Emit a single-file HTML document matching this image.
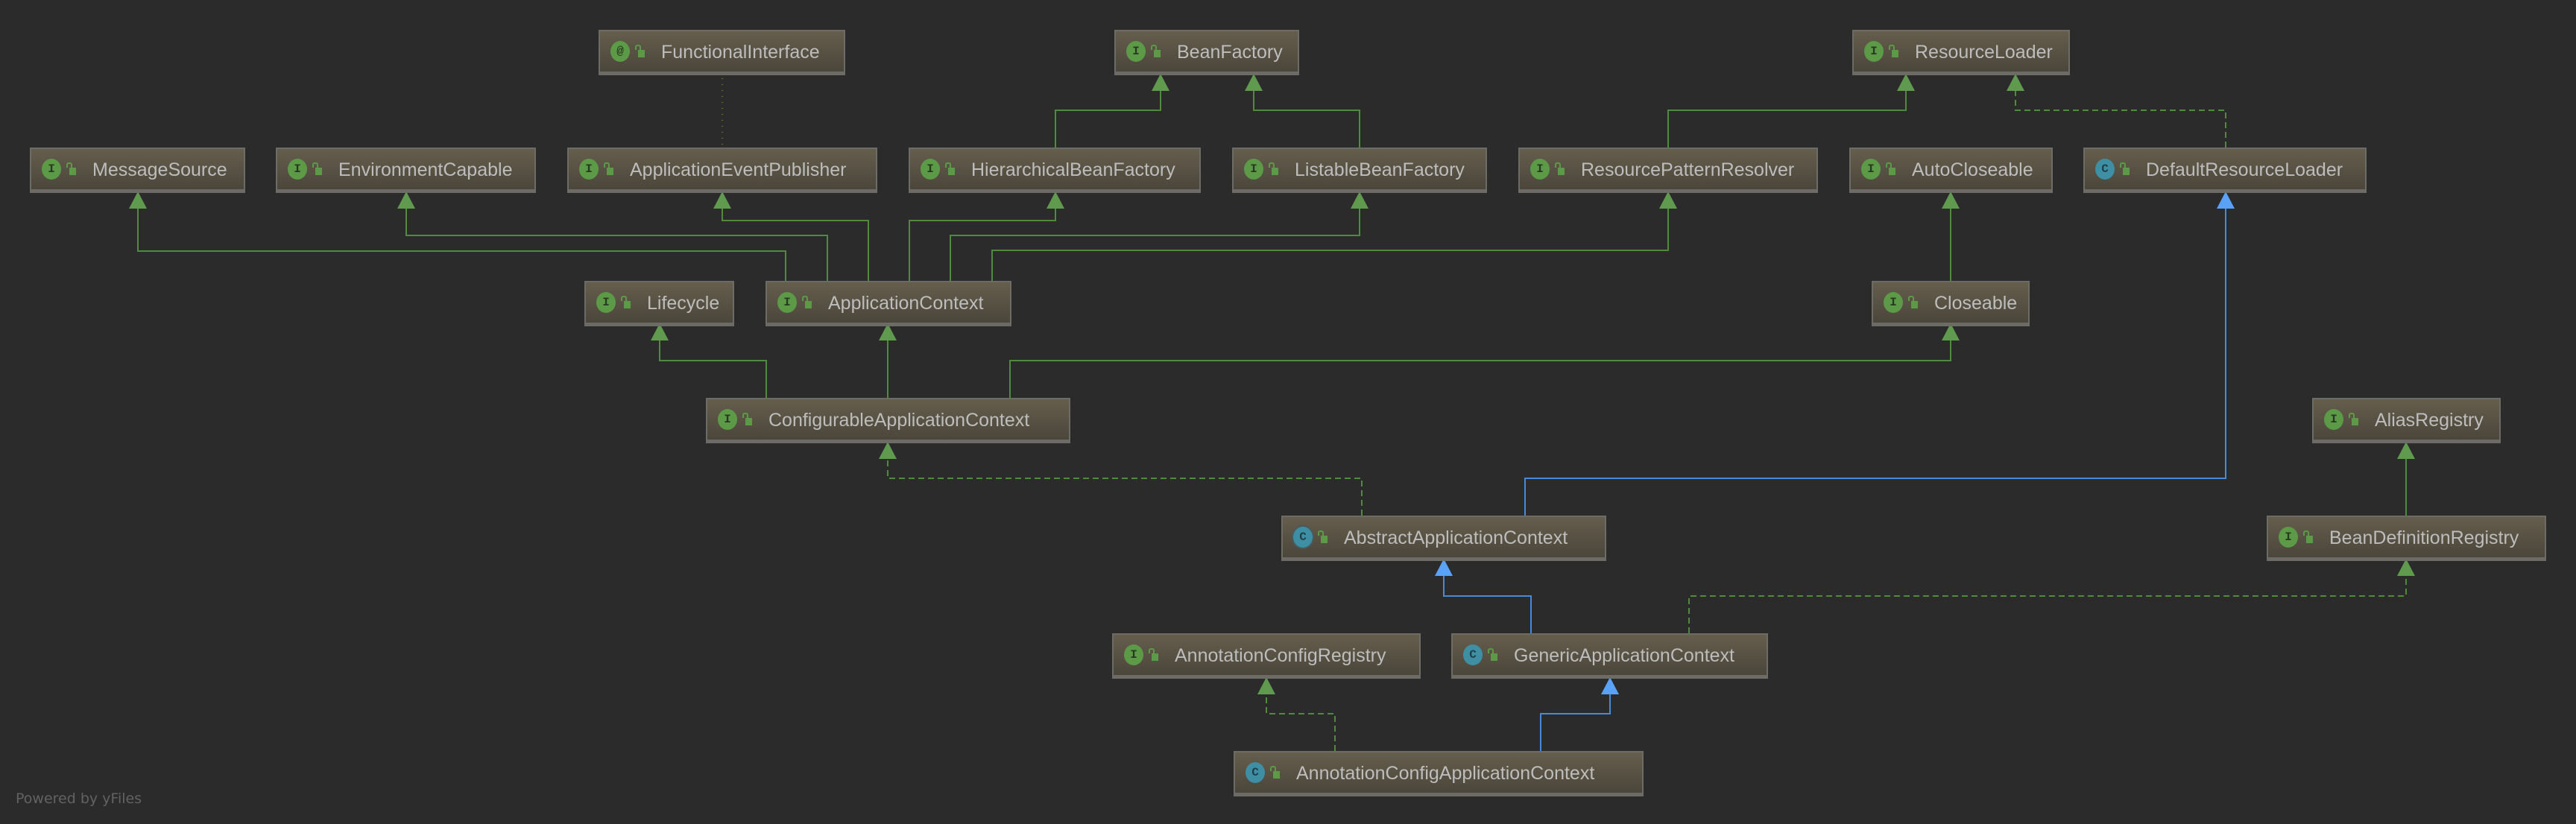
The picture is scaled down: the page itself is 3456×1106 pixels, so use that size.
<!DOCTYPE html>
<html><head><meta charset="utf-8"><style>
body{margin:0;width:3456px;height:1106px;background:#2b2b2b;overflow:hidden;position:relative;font-family:"Liberation Sans",sans-serif}
.b{position:absolute;height:54px;border:2px solid #6d6b66;border-bottom:5px solid #6d6b66;background:linear-gradient(#655e4d,#4b463b);box-sizing:content-box}
.b .i{position:absolute;left:14px;top:13px;width:26px;height:28px;border-radius:50%;background:#5c9a47;color:#263a20;font:bold 16px "Liberation Mono",monospace;text-align:center;line-height:28px}
.b .i.c{background:#3e8fa4;color:#1e3f4a}
.b .l{position:absolute;left:47px;top:18px;width:4px;height:5px;border:2px solid #5c9a47;border-bottom:none;border-radius:3px 3px 0 0}
.b .l:after{content:"";position:absolute;left:2px;top:5px;width:9px;height:10px;background:#5c9a47}
.b .t{position:absolute;left:82px;top:14px;font-size:25px;color:#bdbdbd;white-space:nowrap;line-height:28px}
.p{position:absolute;left:21px;top:1061px;font-size:19px;color:#626262;font-family:"DejaVu Sans",sans-serif}
</style></head><body>
<svg width="3456" height="1106" style="position:absolute;left:0;top:0">
<g fill="none" stroke="#4f8a3f" stroke-width="2">
<polyline points="1054,377 1054,337 185,337 185,279"/>
<polyline points="1110,377 1110,316 545,316 545,279"/>
<polyline points="1165,377 1165,296 969,296 969,279"/>
<polyline points="1220,377 1220,296 1416,296 1416,279"/>
<polyline points="1275,377 1275,316 1824,316 1824,279"/>
<polyline points="1331,377 1331,336 2238,336 2238,279"/>
<polyline points="1416,198 1416,148 1557,148 1557,121"/>
<polyline points="1824,198 1824,148 1682,148 1682,121"/>
<polyline points="2238,198 2238,148 2557,148 2557,121"/>
<polyline points="2617,377 2617,279"/>
<polyline points="1028,534 1028,484 885,484 885,456"/>
<polyline points="1191,534 1191,456"/>
<polyline points="1355,534 1355,484 2617,484 2617,456"/>
<polyline points="3228,692 3228,615"/>
</g>
<g fill="none" stroke="#4f8a3f" stroke-width="2" stroke-dasharray="8,5">
<polyline points="2986,198 2986,148 2704,148 2704,121"/>
<polyline points="1827,692 1827,642 1191,642 1191,615"/>
<polyline points="2266,850 2266,800 3228,800 3228,772"/>
<polyline points="1791,1008 1791,958 1699,958 1699,931"/>
</g>
<line x1="969" y1="105" x2="969" y2="196" stroke="#8a8a20" stroke-width="1.5" stroke-dasharray="1,7"/>
<g fill="none" stroke="#4a88d8" stroke-width="2">
<polyline points="2046,692 2046,642 2986,642 2986,279"/>
<polyline points="2054,850 2054,800 1937,800 1937,772"/>
<polyline points="2067,1008 2067,958 2160,958 2160,931"/>
</g>
<g fill="#609a4e">
<polygon points="185,257 173,280 197,280"/>
<polygon points="545,257 533,280 557,280"/>
<polygon points="969,257 957,280 981,280"/>
<polygon points="1416,257 1404,280 1428,280"/>
<polygon points="1824,257 1812,280 1836,280"/>
<polygon points="2238,257 2226,280 2250,280"/>
<polygon points="1557,99 1545,122 1569,122"/>
<polygon points="1682,99 1670,122 1694,122"/>
<polygon points="2557,99 2545,122 2569,122"/>
<polygon points="2704,99 2692,122 2716,122"/>
<polygon points="2617,257 2605,280 2629,280"/>
<polygon points="885,434 873,457 897,457"/>
<polygon points="1191,434 1179,457 1203,457"/>
<polygon points="2617,434 2605,457 2629,457"/>
<polygon points="1191,593 1179,616 1203,616"/>
<polygon points="3228,593 3216,616 3240,616"/>
<polygon points="3228,750 3216,773 3240,773"/>
<polygon points="1699,909 1687,932 1711,932"/>
</g>
<g fill="#5aa2f8">
<polygon points="2986,257 2974,280 2998,280"/>
<polygon points="1937,750 1925,773 1949,773"/>
<polygon points="2160,909 2148,932 2172,932"/>
</g>
</svg>

<div class="b" style="left:803px;top:40px;width:327px"><div class="i">@</div><div class="l"></div><div class="t">FunctionalInterface</div></div>
<div class="b" style="left:1495px;top:40px;width:244px"><div class="i">I</div><div class="l"></div><div class="t">BeanFactory</div></div>
<div class="b" style="left:2485px;top:40px;width:288px"><div class="i">I</div><div class="l"></div><div class="t">ResourceLoader</div></div>

<div class="b" style="left:40px;top:198px;width:285px"><div class="i">I</div><div class="l"></div><div class="t">MessageSource</div></div>
<div class="b" style="left:370px;top:198px;width:345px"><div class="i">I</div><div class="l"></div><div class="t">EnvironmentCapable</div></div>
<div class="b" style="left:761px;top:198px;width:412px"><div class="i">I</div><div class="l"></div><div class="t">ApplicationEventPublisher</div></div>
<div class="b" style="left:1219px;top:198px;width:388px"><div class="i">I</div><div class="l"></div><div class="t">HierarchicalBeanFactory</div></div>
<div class="b" style="left:1653px;top:198px;width:338px"><div class="i">I</div><div class="l"></div><div class="t">ListableBeanFactory</div></div>
<div class="b" style="left:2037px;top:198px;width:398px"><div class="i">I</div><div class="l"></div><div class="t">ResourcePatternResolver</div></div>
<div class="b" style="left:2481px;top:198px;width:269px"><div class="i">I</div><div class="l"></div><div class="t">AutoCloseable</div></div>
<div class="b" style="left:2795px;top:198px;width:376px"><div class="i c">C</div><div class="l"></div><div class="t">DefaultResourceLoader</div></div>

<div class="b" style="left:784px;top:377px;width:197px"><div class="i">I</div><div class="l"></div><div class="t">Lifecycle</div></div>
<div class="b" style="left:1027px;top:377px;width:326px"><div class="i">I</div><div class="l"></div><div class="t">ApplicationContext</div></div>
<div class="b" style="left:2511px;top:377px;width:208px"><div class="i">I</div><div class="l"></div><div class="t">Closeable</div></div>

<div class="b" style="left:947px;top:534px;width:485px"><div class="i">I</div><div class="l"></div><div class="t">ConfigurableApplicationContext</div></div>
<div class="b" style="left:3102px;top:534px;width:249px"><div class="i">I</div><div class="l"></div><div class="t">AliasRegistry</div></div>

<div class="b" style="left:1719px;top:692px;width:432px"><div class="i c" style="box-shadow:0 0 0 2px #4b5a5c">C</div><div class="l"></div><div class="t">AbstractApplicationContext</div></div>
<div class="b" style="left:3041px;top:692px;width:371px"><div class="i">I</div><div class="l"></div><div class="t">BeanDefinitionRegistry</div></div>

<div class="b" style="left:1492px;top:850px;width:410px"><div class="i">I</div><div class="l"></div><div class="t">AnnotationConfigRegistry</div></div>
<div class="b" style="left:1947px;top:850px;width:421px"><div class="i c">C</div><div class="l"></div><div class="t">GenericApplicationContext</div></div>

<div class="b" style="left:1655px;top:1008px;width:546px"><div class="i c">C</div><div class="l"></div><div class="t">AnnotationConfigApplicationContext</div></div>

<div class="p">Powered by yFiles</div>
</body></html>
